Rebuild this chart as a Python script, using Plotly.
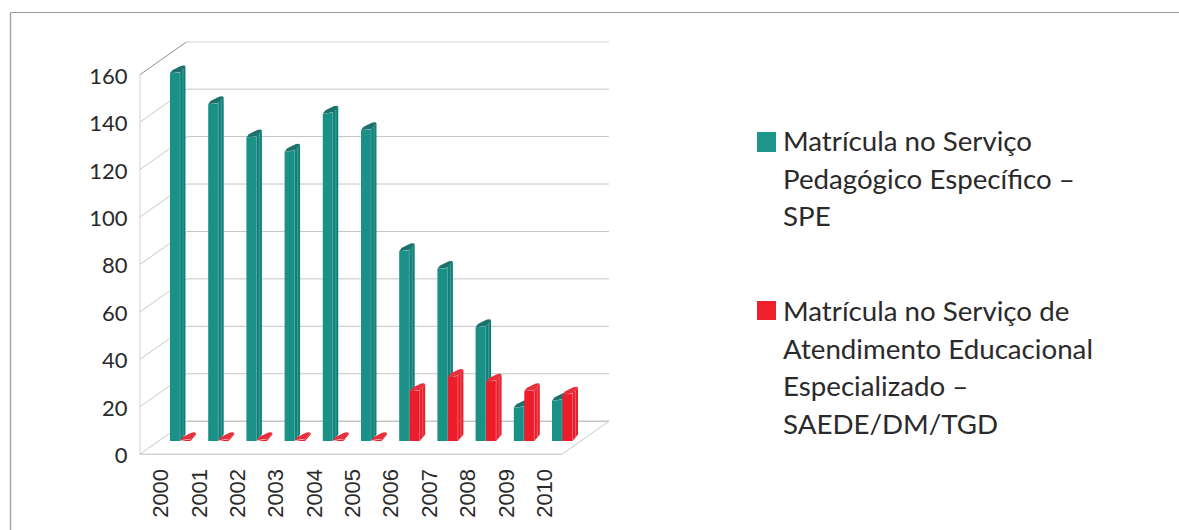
import plotly.graph_objects as go

# ---- data ----
years = ["2000", "2001", "2002", "2003", "2004", "2005", "2006", "2007", "2008", "2009", "2010"]
spe_values = [155, 142, 128, 122, 138, 131, 80, 72.5, 48, 14, 17]
saede_values = [0.3, 0.3, 0.3, 0.3, 0.3, 0.3, 21, 27, 25, 21, 19.5]
y_ticks = [0, 20, 40, 60, 80, 100, 120, 140, 160]
legend_spe = ["Matrícula no Serviço", "Pedagógico Específico –", "SPE"]
legend_saede = ["Matrícula no Serviço de", "Atendimento Educacional", "Especializado –", "SAEDE/DM/TGD"]

# ---- geometry ----
W, H = 1179, 530
PX_L, PX_R_FRONT, PX_R_BACK = 139.5, 561.7, 609.0
PX_Y0, PX_Y160, PX_TOP = 454.5, 75.0, 41.7
UX = (PX_R_FRONT - PX_L) / len(years)
UY = (PX_Y0 - PX_Y160) / 160
XMAX = (PX_R_BACK - PX_L) / UX
YMAX = (PX_Y0 - PX_TOP) / UY
DX = XMAX - len(years)          # depth of the floor, x units
DY = YMAX - 160                 # depth of the floor, y units
BASE = (PX_Y0 - 441) / UY       # bars stand here
STEP = 38.2 / UX
START = 30.5 / UX
FRONT_W = 10 / UX
SIDE_W = 5.5 / UX
SIDE_H = 6.5 / UY
TOP_H = 7 / UY


def faces(values, shift):
    front_x, front_y, side_x, side_y, top_x, top_y = [], [], [], [], [], []
    edge_x, edge_y = [], []
    for i, v in enumerate(values):
        x0 = START + STEP * i + shift
        x1 = x0 + FRONT_W
        x2 = x1 + SIDE_W
        b = BASE
        t = BASE + v
        front_x += [x0, x1, x1, x0, x0, None]
        front_y += [b, b, t + 0.4, t, b, None]
        side_x += [x1, x2, x2, x1, x1, None]
        side_y += [b, b + SIDE_H, t + TOP_H, t + 0.4, b, None]
        top_x += [x0, x0 + 0.06, x0 + 0.2, x0 + 0.3, x2 - 0.03, x2, x1 + 0.02, x1 - 0.06, x0, None]
        top_y += [t, t + 0.55 * TOP_H / 1.2, t + 0.85 * TOP_H, t + TOP_H + 0.3, t + TOP_H + 0.4,
                  t + TOP_H, t + 0.6, t + 0.4, t, None]
        if v > 1:
            edge_x += [x1, x1, None, x1 + SIDE_W * 0.55, x1 + SIDE_W * 0.55, None]
            edge_y += [b, t + 0.4, None, b + SIDE_H * 0.55, t + TOP_H * 0.6, None]
    return front_x, front_y, side_x, side_y, top_x, top_y, edge_x, edge_y


def poly(x, y, color, name):
    return go.Scatter(x=x, y=y, mode="lines", fill="toself", fillcolor=color,
                      line=dict(width=0, color=color), name=name, showlegend=False,
                      cliponaxis=False, hoverinfo="skip")


def seg(x, y, color, width=1):
    return go.Scatter(x=x, y=y, mode="lines", line=dict(color=color, width=width),
                      showlegend=False, cliponaxis=False, hoverinfo="skip")


fig = go.Figure()

# back wall grid and left wall diagonals
for t in y_ticks:
    c = "#8f8f8f" if t == 160 else ("#a8a8a8" if t == 0 else "#c4c4c4")
    fig.add_trace(seg([DX, XMAX], [t + DY, t + DY], c, 1))
    fig.add_trace(seg([0, DX], [t, t + DY], "#8f8f8f" if t == 160 else "#c8c8c8", 1))

# floor and axes
fig.add_trace(seg([len(years), XMAX], [0, DY], "#c8c8c8", 1))
fig.add_trace(seg([0, 0], [0, 160], "#d4d4d4", 2))
fig.add_trace(seg([0, len(years)], [0, 0], "#a8a8a8", 1.5))
for i in range(len(years) + 1):
    fig.add_trace(seg([i, i], [0, -5.5 / UY], "#b4b4b4", 1.5))

# bars
styles = [
    (spe_values, 0.0, "#1a9186", "#137f79", "#1c716c", "#4aa89f", "SPE"),
    (saede_values, 10.5 / UX, "#ed1c2a", "#e81f2d", "#e8303d", "#f2666f", "SAEDE/DM/TGD"),
]
for vals, shift, c_front, c_side, c_top, c_edge, nm in styles:
    fx, fy, sx, sy, tx, ty, ex, ey = faces(vals, shift)
    fig.add_trace(poly(fx, fy, c_front, nm))
    fig.add_trace(poly(sx, sy, c_side, nm))
    fig.add_trace(poly(tx, ty, c_top, nm))
    fig.add_trace(seg(ex, ey, c_edge, 0.8))

# legend written out line by line, with swatches
FONT = "Lato, 'Open Sans', sans-serif"
TEXT = "#2b2a2b"
annos = []
for lines, y_start in ((legend_spe, 140.5), (legend_saede, 310.5)):
    for k, line in enumerate(lines):
        annos.append(dict(text=line, xref="paper", yref="paper", x=781 / W, y=1 - (y_start + k * 37.7) / H,
                          xanchor="left", yanchor="middle", showarrow=False,
                          font=dict(family=FONT, size=27.7, color=TEXT)))

shapes = [
    dict(type="rect", xref="paper", yref="paper", x0=757 / W, x1=776 / W, y0=1 - 152 / H, y1=1 - 132 / H,
         fillcolor="#1f968c", line_width=0),
    dict(type="rect", xref="paper", yref="paper", x0=757 / W, x1=776 / W, y0=1 - 320 / H, y1=1 - 301 / H,
         fillcolor="#ef202c", line_width=0),
    dict(type="line", xref="paper", yref="paper", x0=10.5 / W, x1=1, y0=1 - 12.5 / H, y1=1 - 12.5 / H,
         line=dict(color="#999999", width=1.2)),
    dict(type="line", xref="paper", yref="paper", x0=10.5 / W, x1=10.5 / W, y0=0, y1=1 - 12.5 / H,
         line=dict(color="#a8a8a8", width=1.5)),
]

fig.update_layout(
    width=W, height=H, autosize=False, showlegend=False,
    margin=dict(l=0, r=0, t=0, b=0, pad=0),
    paper_bgcolor="white", plot_bgcolor="white",
    annotations=annos, shapes=shapes,
    xaxis=dict(domain=[PX_L / W, PX_R_BACK / W], range=[0, XMAX], showgrid=False, zeroline=False,
               showline=False, ticks="", tickmode="array", automargin=False,
               tickvals=[i + 0.56 for i in range(len(years))], ticktext=years, tickangle=-90,
               ticklabelstandoff=9,
               tickfont=dict(family="Liberation Sans, Arial, sans-serif", size=22, color=TEXT)),
    yaxis=dict(domain=[1 - PX_Y0 / H, 1 - PX_TOP / H], range=[0, YMAX], showgrid=False, zeroline=False,
               showline=False, ticks="", tickmode="array", tickvals=y_ticks, automargin=False,
               ticktext=[str(t) for t in y_ticks], ticklabelstandoff=11, ticklabelshift=1,
               tickfont=dict(family=FONT, size=22, color=TEXT)),
)

fig.write_html("out.html", post_script="document.body.style.margin='0';", config={"displayModeBar": False})
